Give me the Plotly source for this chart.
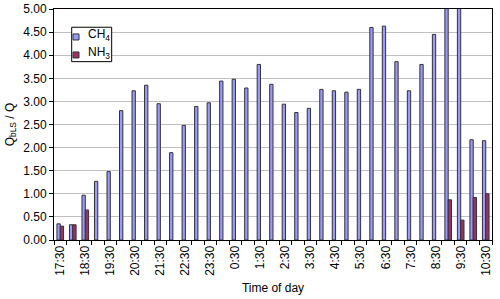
import plotly.graph_objects as go

times = ["17:30","18:00","18:30","19:00","19:30","20:00","20:30","21:00","21:30","22:00",
         "22:30","23:00","23:30","0:00","0:30","1:00","1:30","2:00","2:30","3:00",
         "3:30","4:00","4:30","5:00","5:30","6:00","6:30","7:00","7:30","8:00",
         "8:30","9:00","9:30","10:00","10:30"]
ch4 = [0.35, 0.33, 0.97, 1.27, 1.48, 2.80, 3.23, 3.35, 2.95, 1.89,
       2.48, 2.89, 2.97, 3.44, 3.48, 3.29, 3.80, 3.37, 2.94, 2.76,
       2.85, 3.26, 3.23, 3.20, 3.26, 4.60, 4.63, 3.86, 3.23, 3.80,
       4.45, 5.60, 5.60, 2.17, 2.15]
nh3 = [0.30, 0.33, 0.65, None, None, None, None, None, None, None,
       None, None, None, None, None, None, None, None, None, None,
       None, None, None, None, None, None, None, None, None, None,
       None, 0.87, 0.43, 0.92, 1.00]
series_names = ["CH<sub>4</sub>", "NH<sub>3</sub>"]
series_colors = ["#9999FF", "#993366"]
tick_text = [t if i % 2 == 0 else "" for i, t in enumerate(times)]
y_ticks = [0, 0.5, 1, 1.5, 2, 2.5, 3, 3.5, 4, 4.5, 5]

fig = go.Figure()
for name, vals, col in zip(series_names, [ch4, nh3], series_colors):
    fig.add_trace(go.Bar(x=times, y=vals, name=name, showlegend=False,
                         marker=dict(color=col, line=dict(color="#333333", width=1))))

# compact legend box (Excel-style)
fig.add_shape(type="rect", xref="paper", yref="paper", x0=0.0404, x1=0.1317,
              y0=0.772, y1=0.921, line=dict(color="black", width=1),
              fillcolor="white", layer="above")
legend_rows = [(0.866, 0.892, 0.888), (0.788, 0.814, 0.811)]
for (y0, y1, yc), name, col in zip(legend_rows, series_names, series_colors):
    fig.add_shape(type="rect", xref="paper", yref="paper", x0=0.0434, x1=0.0571,
                  y0=y0, y1=y1, line=dict(color="#333333", width=1),
                  fillcolor=col, layer="above")
    fig.add_annotation(xref="paper", yref="paper", x=0.0730, y=yc, text=name,
                       showarrow=False, xanchor="left", yanchor="middle",
                       font=dict(size=12))

fig.update_layout(
    width=500, height=299,
    margin=dict(l=54, r=8, t=9, b=59, autoexpand=False),
    paper_bgcolor="white", plot_bgcolor="white",
    font=dict(family="Liberation Sans, Arial, sans-serif", size=11, color="black"),
    barmode="group", bargap=0.47, bargroupgap=0,
    showlegend=False,
    xaxis=dict(type="category", tickmode="array", tickvals=times, ticktext=tick_text,
               range=[-0.5, len(times) - 0.5], automargin=False,
               tickson="boundaries", ticks="outside", ticklen=4, tickcolor="black",
               tickangle=-90, showgrid=False, showline=True, linecolor="black",
               tickfont=dict(size=12),
               mirror=True, title=dict(text="Time of day", standoff=8, font=dict(size=12))),
    yaxis=dict(range=[0, 5], tickmode="array", tickvals=y_ticks, tickformat=".2f",
               ticks="outside", ticklen=4, tickcolor="black", showgrid=True,
               gridcolor="#C0C0C0", gridwidth=1, showline=True, linecolor="black",
               mirror=True, zeroline=False, tickfont=dict(size=12), automargin=False,
               title=dict(text="Q<sub>bLS</sub> / Q", standoff=6, font=dict(size=12))),
)
fig.write_html("out.html", config={"displayModeBar": False},
               post_script="document.body.style.margin='0';document.body.style.padding='0';")
